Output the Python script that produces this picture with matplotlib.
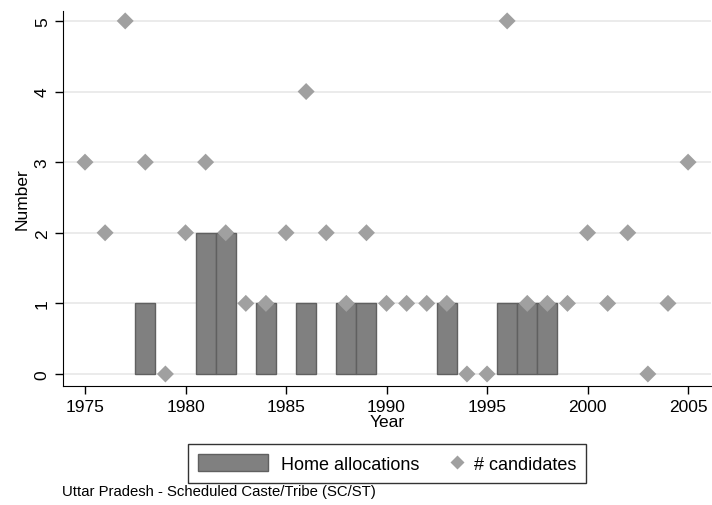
import matplotlib
matplotlib.use("Agg")
import matplotlib.pyplot as plt
from matplotlib.legend_handler import HandlerBase
from matplotlib.lines import Line2D
from matplotlib.patches import Patch

plt.rcParams["font.family"] = ["Liberation Sans", "DejaVu Sans"]

# Home allocations (bars)
alloc_years = [1978, 1981, 1982, 1984, 1986, 1988, 1989, 1993, 1996, 1997, 1998]
alloc_counts = [1, 2, 2, 1, 1, 1, 1, 1, 1, 1, 1]

# number of candidates (diamonds)
cand_years = list(range(1975, 2006))
cand_counts = [3, 2, 5, 3, 0, 2, 3, 2, 1, 1, 2, 4, 2, 1, 2, 1,
               1, 1, 1, 0, 0, 5, 1, 1, 1, 2, 1, 2, 0, 1, 3]

BAR_C = "#808080"
BAR_EDGE = "#606060"
DOT_C = "#a0a0a0"


class RightDiamond(HandlerBase):
    # diamond sits at the right end of the handle box, close to its text
    def create_artists(self, legend, orig_handle, xdescent, ydescent,
                       width, height, fontsize, trans):
        m = Line2D([-xdescent + width - 3], [height / 2 - ydescent],
                   marker="D", ms=7.6, color=DOT_C, mec="none", ls="none",
                   transform=trans)
        return [m]


fig = plt.figure(figsize=(7.12, 5.06), dpi=100)
ax = fig.add_axes([0.0885, 0.2352, 0.9101, 0.741])

for y in range(6):
    ax.axhline(y, color="#e8e8e8", lw=1.2, zorder=0)

ax.bar(alloc_years, alloc_counts, width=1.0, color=BAR_C,
       edgecolor=BAR_EDGE, linewidth=1.0, zorder=2)
ax.scatter(cand_years, cand_counts, marker="D", s=75, color=DOT_C,
           edgecolor="none", zorder=3)

ax.set_xlim(1973.906, 2006.14)
ax.set_ylim(-0.17, 5.14)
ax.set_xticks([1975, 1980, 1985, 1990, 1995, 2000, 2005])
ax.set_yticks([0, 1, 2, 3, 4, 5])
for lab in ax.get_yticklabels():
    lab.set_rotation(90)
    lab.set_va("center")
ax.tick_params(labelsize=12.5, length=6, width=1)
ax.spines["top"].set_visible(False)
ax.spines["right"].set_visible(False)
ax.set_xlabel("Year", fontsize=12.5, labelpad=0)
ax.set_ylabel("Number", fontsize=12.5, labelpad=4)

bar_handle = Patch(facecolor=BAR_C, edgecolor=BAR_EDGE, linewidth=1.0)
dot_handle = Line2D([], [])
leg = fig.legend([bar_handle, dot_handle], ["Home allocations", "# candidates"],
                 handler_map={Line2D: RightDiamond()},
                 loc="center", bbox_to_anchor=(0.5435, 0.082), ncol=2,
                 fontsize=13, frameon=True, fancybox=False, edgecolor="black",
                 handlelength=3.9, handleheight=1.0, handletextpad=0.7,
                 columnspacing=-1.6, borderpad=0.55)
leg.get_frame().set_linewidth(1)

fig.text(0.087, 0.02, "Uttar Pradesh - Scheduled Caste/Tribe (SC/ST)", fontsize=10.7)

fig.savefig("out.png", dpi=100)
